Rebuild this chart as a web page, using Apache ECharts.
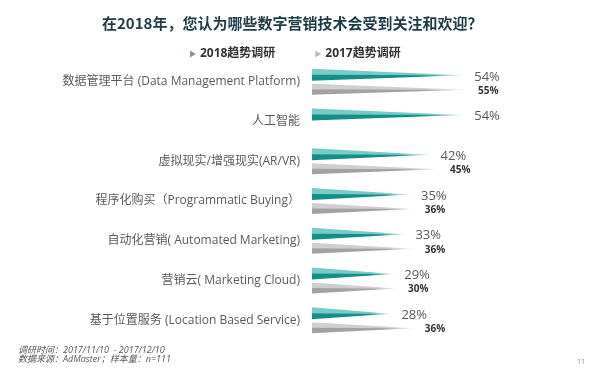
<!DOCTYPE html>
<html>
<head>
<meta charset="utf-8">
<script src="https://cdn.jsdelivr.net/npm/echarts@6/dist/echarts.min.js"></script>
<style>
html,body{margin:0;padding:0;background:#fff;}
#c{width:593px;height:371px;}
</style>
</head>
<body>
<div id="c"></div>
<script>
var categories = [
  '数据管理平台 (Data Management Platform)',
  '人工智能',
  '虚拟现实/增强现实(AR/VR)',
  '程序化购买（Programmatic Buying）',
  '自动化营销( Automated Marketing)',
  '营销云( Marketing Cloud)',
  '基于位置服务 (Location Based Service)'
];
var values2018 = [54, 54, 42, 35, 33, 29, 28];
var values2017 = [55, null, 45, 36, 36, 30, 36];
var seriesNames = ['2018趋势调研', '2017趋势调研'];

var FONT = '"Open Sans", "Noto Sans CJK SC", sans-serif';

function toData(arr) {
  var out = [];
  arr.forEach(function (v, i) { if (v != null) out.push([v, i]); });
  return out;
}

function makeRender(isTop) {
  return function (params, api) {
    var val = api.value(0);
    var cat = api.value(1);
    var c0 = api.coord([0, cat]);
    var c1 = api.coord([val, cat]);
    var cy = c0[1];
    var x0 = c0[0], x1 = c1[0];
    var top, bot;
    if (isTop) { top = cy - 13; bot = cy - 1; } else { top = cy + 2; bot = cy + 13; }
    var mid = (top + bot) / 2;
    var tipY = mid + 0.5;
    var light = isTop ? '#78cbc6' : '#cfcfcf';
    var lightEnd = isTop ? '#d2eeec' : '#ececec';
    var dark = isTop ? '#138f87' : '#a2a2a2';
    var darkEnd = isTop ? '#b9dfdc' : '#dedede';
    var lg = new echarts.graphic.LinearGradient(0, 0, 1, 0, [
      {offset: 0, color: light}, {offset: 0.75, color: light}, {offset: 1, color: lightEnd}
    ]);
    var dg = new echarts.graphic.LinearGradient(0, 0, 1, 0, [
      {offset: 0, color: dark}, {offset: 0.72, color: dark}, {offset: 1, color: darkEnd}
    ]);
    var children = [
      {type: 'polygon', shape: {points: [[x0, top], [x0, mid + 0.5], [x1, tipY]]}, style: {fill: lg}},
      {type: 'polygon', shape: {points: [[x0, mid], [x0, bot], [x1, tipY]]}, style: {fill: dg}},
      {type: 'text', style: isTop ? {
        text: val + '%', x: x1 + 11, y: cy - 5, verticalAlign: 'middle', align: 'left',
        fill: '#5a5a5a', fontSize: 13, fontFamily: FONT
      } : {
        text: val + '%', x: x1 + 12, y: cy + 9, verticalAlign: 'middle', align: 'left',
        fill: '#333', fontSize: 10, fontWeight: 'bold', fontFamily: FONT
      }}
    ];
    return {type: 'group', children: children};
  };
}

var chart = echarts.init(document.getElementById('c'), null, {renderer: 'canvas'});
chart.setOption({
  backgroundColor: '#fff',
  animation: false,
  title: {
    text: '在2018年，您认为哪些数字营销技术会受到关注和欢迎？',
    left: 97, top: 11,
    textStyle: {fontSize: 15, fontWeight: 'bold', color: '#1f3b47', fontFamily: '"Noto Sans CJK SC", sans-serif'}
  },
  legend: {
    top: 43, left: 185,
    itemGap: 40, itemWidth: 6, itemHeight: 7,
    icon: 'path://M0,0L10,6L0,12Z',
    textStyle: {fontSize: 12, fontWeight: 'bold', color: '#333', fontFamily: FONT, padding: [0, 0, 0, -1]},
    data: [
      {name: seriesNames[0], itemStyle: {color: '#7c97a0'}},
      {name: seriesNames[1], itemStyle: {color: '#bbbbbb'}}
    ]
  },
  grid: {left: 312, top: 62, width: 280, height: 278, containLabel: false},
  xAxis: {type: 'value', min: 0, max: 100, show: false},
  yAxis: {
    type: 'category', data: categories, inverse: true,
    axisLine: {show: false}, axisTick: {show: false}, splitLine: {show: false},
    axisLabel: {margin: 12, fontSize: 12, color: '#5a5a5a', fontFamily: FONT}
  },
  series: [
    {name: seriesNames[0], type: 'custom', renderItem: makeRender(true), encode: {x: 0, y: 1},
     itemStyle: {color: '#7c97a0'}, data: toData(values2018)},
    {name: seriesNames[1], type: 'custom', renderItem: makeRender(false), encode: {x: 0, y: 1},
     itemStyle: {color: '#bbbbbb'}, data: toData(values2017)}
  ],
  graphic: [
    {type: 'text', left: 18, top: 346, style: {text: '调研时间：2017/11/10  - 2017/12/10', fill: '#555', fontSize: 9, fontStyle: 'italic', fontFamily: FONT}},
    {type: 'text', left: 18, top: 355, style: {text: '数据来源：AdMaster；样本量：n=111', fill: '#555', fontSize: 9, fontStyle: 'italic', fontFamily: FONT}},
    {type: 'text', right: 8, top: 358, style: {text: '11', fill: '#888', fontSize: 7, fontFamily: FONT}}
  ]
});
</script>
</body>
</html>
